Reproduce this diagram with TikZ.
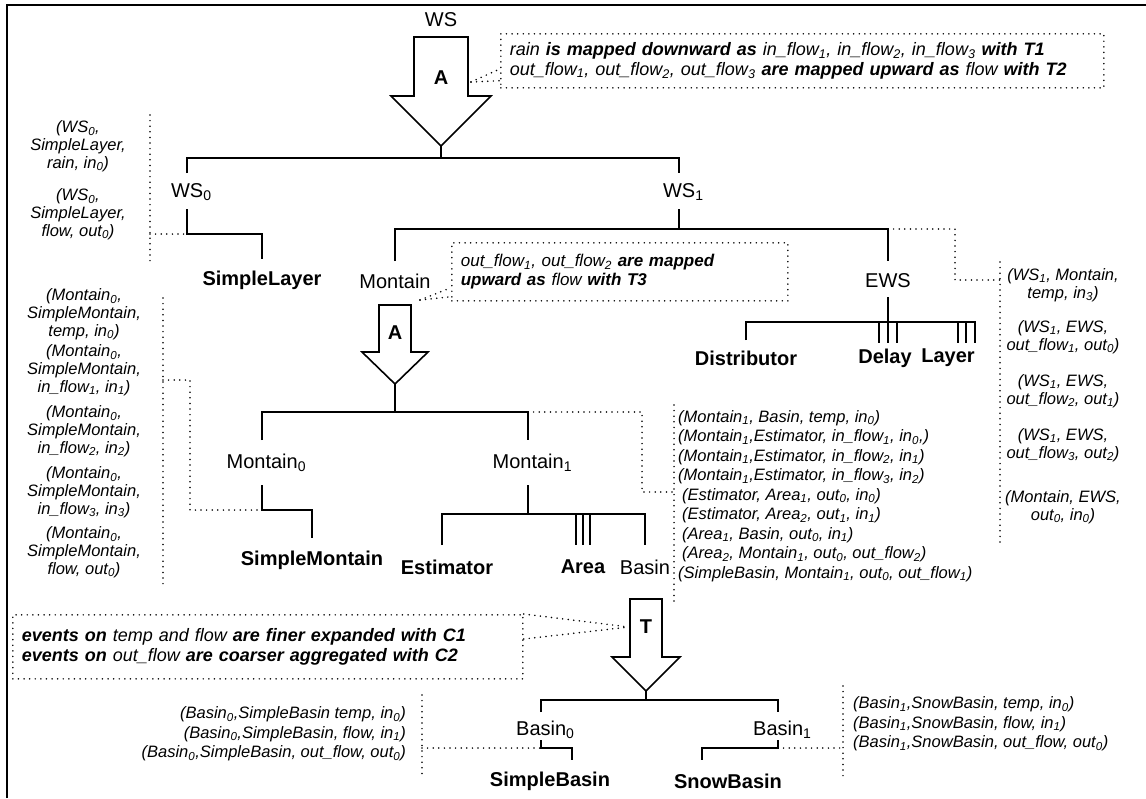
\documentclass[tikz,border=0pt]{standalone}
\usepackage{fontspec}
\setmainfont{Liberation Sans}
\newcommand\sbt[1]{\textsubscript{#1}}
\newcommand\bi[1]{\textbf{#1}}
\begin{document}
\begin{tikzpicture}[x=1pt,y=-1pt,line join=miter,
  tree/.style={line width=1.6pt},
  dots/.style={line width=1.7pt, dash pattern=on 0pt off 5.6pt, line cap=round},
  fat/.style={line width=1.6pt, fill=white},
  lab/.style={font=\fontsize{20}{22}\selectfont, inner sep=0pt},
  leaf/.style={font=\fontsize{20}{22}\selectfont\bfseries, inner sep=0pt},
  lst/.style={font=\fontsize{16.5}{17.8}\selectfont\itshape, align=center, inner sep=0pt},
  lstl/.style={font=\fontsize{16.5}{19.5}\selectfont\itshape, inner sep=0pt},
  note/.style={font=\fontsize{18}{19.5}\selectfont\itshape, align=left,
               draw, dots, inner xsep=9pt, inner ysep=0pt}]
\fill[white] (0,0) rectangle (1146,798);
\useasboundingbox (0,0) rectangle (1146,798);
% frame
\draw[line width=2.6pt] (7,798) -- (7,5) -- (1146,5);

% ---------- root and abstraction arrow A ----------
\node[lab] (ws) at (441,20) {WS};
\draw[fat] (414,37) -- (468,37) -- (468,96) -- (491,96) -- (441,146) -- (391,96) -- (414,96) -- cycle;
\node[leaf] (a1) at (441,78) {A};
\node[note, anchor=north west, text width=585pt, minimum height=54pt] (n1) at (500,33)
  {rain \bi{is mapped downward as} in\_flow\sbt{1}, in\_flow\sbt{2}, in\_flow\sbt{3} \bi{with T1}\\
   out\_flow\sbt{1}, out\_flow\sbt{2}, out\_flow\sbt{3} \bi{are mapped upward as} flow \bi{with T2}};
\coordinate (a1k) at (471,82);
\draw[dots] (a1k) -- ([yshift=-8pt]n1.west);
\draw[dots] (a1k) -- ([yshift=8pt]n1.south west);

% ---------- level 1 ----------
\coordinate (a1tip) at (441,146);
\coordinate (j1) at (441,158);
\coordinate (ws0up) at (187,173);
\coordinate (ws1up) at (679,173);
\draw[tree] (a1tip) -- (j1);
\draw[tree] (ws0up) |- (j1) -| (ws1up);
\node[lab, anchor=west] (ws0) at (170.9,192) {WS\sbt{0}};
\node[lab, anchor=west] (ws1) at (662.9,192) {WS\sbt{1}};

% WS0 -> SimpleLayer
\coordinate (ws0dn) at (187,209);
\coordinate (ws0k) at (187,234);
\coordinate (slup) at (262,259);
\draw[tree] (ws0dn) -- (ws0k) -| (slup);
\node[leaf] (sl) at (262,280) {SimpleLayer};
\coordinate (l1t) at (150,115);
\coordinate (l1b) at (150,262);
\draw[dots] (l1t) -- (l1b);
\draw[dots] (ws0k -| l1t) -- (ws0k);
\node[lst] (c1) at (78,146) {(WS\sbt{0},\\SimpleLayer,\\rain, in\sbt{0})};
\node[lst] (c2) at (78,214) {(WS\sbt{0},\\SimpleLayer,\\flow, out\sbt{0})};

% ---------- level 2 ----------
\coordinate (ws1dn) at (679,209);
\coordinate (j2) at (679,229);
\coordinate (mup) at (395,261);
\coordinate (ewsup) at (888,261);
\draw[tree] (ws1dn) -- (j2);
\draw[tree] (mup) |- (j2) -| (ewsup);
\node[lab] (mont) at (395,281) {Montain};
\node[lab] (ews) at (888,281) {EWS};
\node[note, anchor=north west, text width=318pt, minimum height=58pt,
      font=\fontsize{17}{19.5}\selectfont\itshape] (n2) at (451,242)
  {out\_flow\sbt{1}, out\_flow\sbt{2} \bi{are mapped}\\ \bi{upward as} flow \bi{with T3}};
\coordinate (mk) at (420,300);
\draw[dots] (mk) -- ([yshift=14pt]n2.south west);
\draw[dots] (mk) -- ([yshift=5pt]n2.south west);

% EWS -> Distributor, Delay, Layer
\coordinate (ewsdn) at (888,297);
\coordinate (ewsbot) at (888,343);
\coordinate (j3) at (888,322);
\coordinate (distup) at (746,340);
\coordinate (layup) at (975,343);
\draw[tree] (ewsdn) -- (ewsbot);
\draw[tree] (distup) |- (j3) -| (layup);
\draw[tree] (879,322) -- (879,343);
\draw[tree] (897,322) -- (897,343);
\draw[tree] (958,322) -- (958,343);
\draw[tree] (966,322) -- (966,343);
\node[leaf] (dist) at (746,358) {Distributor};
\node[leaf] (delay) at (885,358) {Delay};
\node[leaf] (layer) at (948,358) {Layer};

% couplings of WS1
\coordinate (e1) at (955,229);
\coordinate (e2) at (955,280);
\coordinate (r1) at (1000,280);
\draw[dots] (ewsup |- j2) -- (e1) -- (e2) -- (r1);
\draw[dots] (1000,262) -- (1000,545);
\node[lst] (w1) at (1063,285) {(WS\sbt{1}, Montain,\\temp, in\sbt{3})};
\node[lst] (w2) at (1063,337) {(WS\sbt{1}, EWS,\\out\_flow\sbt{1}, out\sbt{0})};
\node[lst] (w3) at (1063,391) {(WS\sbt{1}, EWS,\\out\_flow\sbt{2}, out\sbt{1})};
\node[lst] (w4) at (1063,445) {(WS\sbt{1}, EWS,\\out\_flow\sbt{3}, out\sbt{2})};
\node[lst] (w5) at (1063,507) {(Montain, EWS,\\out\sbt{0}, in\sbt{0})};

% ---------- Montain, abstraction A ----------
\draw[fat] (379,305) -- (411,305) -- (411,352) -- (428,352) -- (395,384) -- (362,352) -- (379,352) -- cycle;
\node[leaf] (a2) at (395,333) {A};
\coordinate (a2tip) at (395,384);
\coordinate (j4) at (395,412);
\coordinate (m0up) at (262,440);
\coordinate (m1up) at (528,440);
\draw[tree] (a2tip) -- (j4);
\draw[tree] (m0up) |- (j4) -| (m1up);
\node[lab, anchor=west] (m0) at (226.4,463) {Montain\sbt{0}};
\node[lab, anchor=west] (m1) at (492.4,463) {Montain\sbt{1}};

% Montain0 -> SimpleMontain
\coordinate (m0dn) at (262,485);
\coordinate (m0k) at (262,510);
\coordinate (smup) at (312,538);
\draw[tree] (m0dn) -- (m0k) -| (smup);
\node[leaf] (sm) at (312,560) {SimpleMontain};
\coordinate (l2t) at (163,298);
\coordinate (l2b) at (163,585);
\coordinate (l2k) at (190,380);
\draw[dots] (l2t) -- (l2b);
\draw[dots] (l2k -| l2t) -- (l2k) -- (l2k |- m0k) -- (m0k);
\node[lst] (d1) at (84,314) {(Montain\sbt{0},\\SimpleMontain,\\temp, in\sbt{0})};
\node[lst] (d2) at (84,370) {(Montain\sbt{0},\\SimpleMontain,\\in\_flow\sbt{1}, in\sbt{1})};
\node[lst] (d3) at (84,431) {(Montain\sbt{0},\\SimpleMontain,\\in\_flow\sbt{2}, in\sbt{2})};
\node[lst] (d4) at (84,492) {(Montain\sbt{0},\\SimpleMontain,\\in\_flow\sbt{3}, in\sbt{3})};
\node[lst] (d5) at (84,552) {(Montain\sbt{0},\\SimpleMontain,\\flow, out\sbt{0})};

% Montain1 -> Estimator, Area, Basin
\coordinate (m1dn) at (528,485);
\coordinate (j5) at (528,514);
\coordinate (estup) at (442,545);
\coordinate (basup) at (645,545);
\draw[tree] (m1dn) -- (j5);
\draw[tree] (estup) |- (j5) -| (basup);
\draw[tree] (576,514) -- (576,545);
\draw[tree] (583,514) -- (583,545);
\draw[tree] (590,514) -- (590,545);
\node[leaf] (est) at (447,567) {Estimator};
\node[leaf] (area) at (583,567) {Area};
\node[lab] (bas) at (645,567) {Basin};

% couplings of Montain1
\coordinate (f1) at (642,412);
\coordinate (f2) at (642,492);
\coordinate (l3t) at (674,405);
\coordinate (l3b) at (674,602);
\draw[dots] (m1up |- j4) -- (f1) -- (f2) -- (f2 -| l3t);
\draw[dots] (l3t) -- (l3b);
\node[lstl, anchor=north west, align=left] (mlist) at (678,410)
  {(Montain\sbt{1}, Basin, temp, in\sbt{0})\\
   (Montain\sbt{1},Estimator, in\_flow\sbt{1}, in\sbt{0},)\\
   (Montain\sbt{1},Estimator, in\_flow\sbt{2}, in\sbt{1})\\
   (Montain\sbt{1},Estimator, in\_flow\sbt{3}, in\sbt{2})\\
   \hspace{4pt}(Estimator, Area\sbt{1}, out\sbt{0}, in\sbt{0})\\
   \hspace{4pt}(Estimator, Area\sbt{2}, out\sbt{1}, in\sbt{1})\\
   \hspace{4pt}(Area\sbt{1}, Basin, out\sbt{0}, in\sbt{1})\\
   \hspace{4pt}(Area\sbt{2}, Montain\sbt{1}, out\sbt{0}, out\_flow\sbt{2})\\
   (SimpleBasin, Montain\sbt{1}, out\sbt{0}, out\_flow\sbt{1})};

% ---------- Basin, transformation T ----------
\draw[fat] (630,599) -- (662,599) -- (662,657) -- (680,657) -- (646,691) -- (612,657) -- (630,657) -- cycle;
\node[leaf] (t) at (646,627) {T};
\node[note, anchor=north west, text width=492pt, minimum height=64pt] (n3) at (12,614)
  {\bi{events on} temp and flow \bi{are finer expanded with C1}\\
   \bi{events on} out\_flow \bi{are coarser aggregated with C2}};
\coordinate (tk) at (629,627);
\draw[dots] (n3.north east) -- (tk);
\draw[dots] ([yshift=-25pt]n3.north east) -- (tk);

\coordinate (a3tip) at (646,691);
\coordinate (j6) at (646,700);
\coordinate (b0up) at (541,712);
\coordinate (b1up) at (778,712);
\draw[tree] (a3tip) -- (j6);
\draw[tree] (b0up) |- (j6) -| (b1up);
\node[lab, anchor=west] (b0) at (516,730) {Basin\sbt{0}};
\node[lab, anchor=west] (b1) at (753,730) {Basin\sbt{1}};

% Basin0 -> SimpleBasin, Basin1 -> SnowBasin
\coordinate (b0dn) at (541,740);
\coordinate (b0k) at (541,748);
\coordinate (sbup) at (572,760);
\draw[tree] (b0dn) -- (b0k) -| (sbup);
\coordinate (b1dn) at (778,740);
\coordinate (b1k) at (778,748);
\coordinate (snup) at (702,760);
\draw[tree] (b1dn) -- (b1k) -| (snup);
\node[leaf] (sb) at (550,781) {SimpleBasin};
\node[leaf] (sn) at (728,781) {SnowBasin};

% couplings of Basin0 and Basin1
\coordinate (l4t) at (422,695);
\coordinate (l4b) at (422,777);
\draw[dots] (l4t) -- (l4b);
\draw[dots] (b0k -| l4t) -- (b0k);
\coordinate (l5t) at (843,686);
\coordinate (l5b) at (843,777);
\draw[dots] (l5t) -- (l5b);
\draw[dots] (b1k) -- (b1k -| l5t);
\node[lstl, anchor=east, align=right] (blist0) at (406,734)
  {(Basin\sbt{0},SimpleBasin temp, in\sbt{0})\\
   (Basin\sbt{0},SimpleBasin, flow, in\sbt{1})\\
   (Basin\sbt{0},SimpleBasin, out\_flow, out\sbt{0})};
\node[lstl, anchor=west, align=left] (blist1) at (853,724)
  {(Basin\sbt{1},SnowBasin, temp, in\sbt{0})\\
   (Basin\sbt{1},SnowBasin, flow, in\sbt{1})\\
   (Basin\sbt{1},SnowBasin, out\_flow, out\sbt{0})};
\end{tikzpicture}
\end{document}
